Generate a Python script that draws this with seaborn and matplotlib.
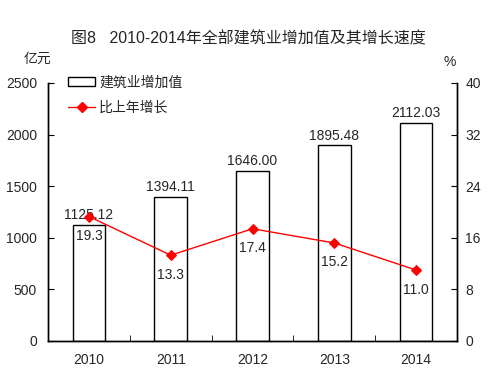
import numpy as np
import pandas as pd
import seaborn as sns
import matplotlib.pyplot as plt
from matplotlib.patches import Patch
from matplotlib.lines import Line2D

years = ['2010', '2011', '2012', '2013', '2014']
value_added = [1125.12, 1394.11, 1646.00, 1895.48, 2112.03]
growth = [19.3, 13.3, 17.4, 15.2, 11.0]

sns.set_style('white')
plt.rcParams['font.family'] = ['Liberation Sans', 'Noto Sans CJK SC']
plt.rcParams['font.size'] = 10

df = pd.DataFrame({'year': years, 'value': value_added, 'growth': growth})

fig = plt.figure(figsize=(4.88, 3.83), dpi=100)
ax = fig.add_axes([0.0984, 0.1097, 0.8381, 0.6736])

sns.barplot(data=df, x='year', y='value', ax=ax, color='white',
            edgecolor='black', linewidth=1.0, width=0.4, saturation=1)
ax.bar_label(ax.containers[0], labels=[f'{v:.2f}' for v in value_added],
             padding=2, fontsize=10)

ax2 = ax.twinx()
sns.pointplot(data=df, x='year', y='growth', ax=ax2, color='red',
              markers='D', linewidth=1.0, markersize=5)
for i, g in enumerate(growth):
    ax2.annotate(f'{g:.1f}', (i, g), xytext=(0, -9), textcoords='offset points',
                 ha='center', va='top', fontsize=10)

ax.set_xlim(-0.5, 4.5)
ax.set_ylim(0, 2500)
ax.set_yticks(np.arange(0, 2501, 500))
ax2.set_ylim(0, 40)
ax2.set_yticks(np.arange(0, 41, 8))
ax.set_xlabel('')
ax.set_ylabel('')
ax2.set_ylabel('')

for a in (ax, ax2):
    a.spines['top'].set_visible(False)
    for s in a.spines.values():
        s.set_color('black')
        s.set_linewidth(1.0)
ax.set_xticks(range(len(years)))
ax.set_xticklabels(years)
ax.set_xticks(np.arange(0.5, 4.5, 1), minor=True)
ax.tick_params(axis='x', which='major', length=0, pad=9)
ax.tick_params(axis='x', which='minor', direction='in', length=4, color='black', bottom=True)
ax.tick_params(axis='y', direction='in', length=4, color='black', pad=8, left=True)
ax2.tick_params(axis='y', direction='in', length=4, color='black', pad=6, right=True)
ax2.set_xlim(-0.5, 4.5)

handles = [Patch(facecolor='white', edgecolor='black', linewidth=1.0),
           Line2D([], [], color='red', marker='D', markersize=5, linewidth=1.0)]
ax.legend(handles, ['建筑业增加值', '比上年增长'], loc='upper left',
          bbox_to_anchor=(0.05, 1.03), frameon=False, borderpad=0,
          borderaxespad=0, handlelength=1.9, handletextpad=0.3,
          labelspacing=0.85, fontsize=10)
ax2.set_zorder(ax.get_zorder() + 1)
ax2.patch.set_visible(False)

fig.text(0.508, 0.90, '图8   2010-2014年全部建筑业增加值及其增长速度',
         ha='center', va='center', fontsize=11.5)
fig.text(0.076, 0.847, '亿元', ha='center', va='center', fontsize=10)
fig.text(0.922, 0.838, '%', ha='center', va='center', fontsize=10)

fig.savefig('out.png', dpi=100)
